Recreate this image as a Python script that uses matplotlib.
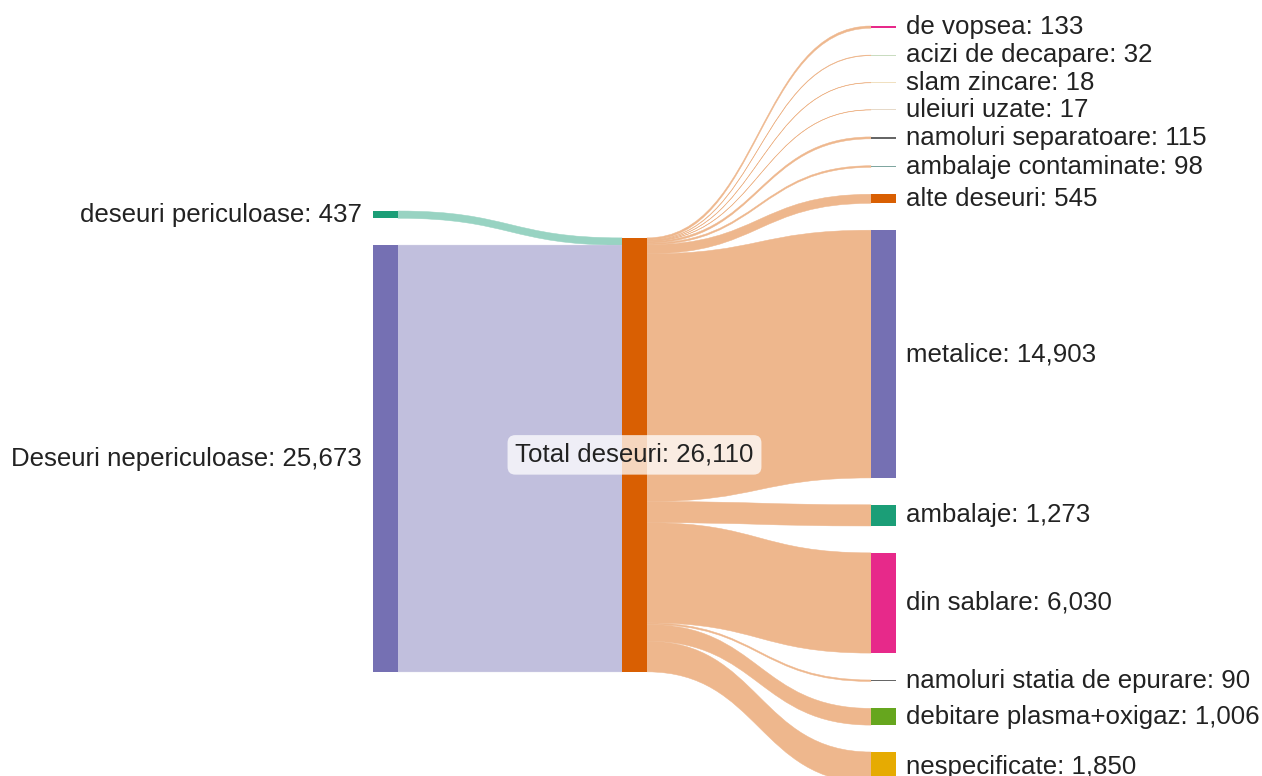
import matplotlib
matplotlib.use("Agg")
import matplotlib.pyplot as plt
from matplotlib.path import Path
from matplotlib.patches import PathPatch, Rectangle
from matplotlib.colors import to_rgb

# ---------------- data ----------------
left_labels = ["deseuri periculoase", "Deseuri nepericuloase"]
left_values = [437, 25673]
left_colors = ["#1b9e77", "#7570b3"]

total_label = "Total deseuri"
total_color = "#d95f02"

right_labels = ["de vopsea", "acizi de decapare", "slam zincare", "uleiuri uzate",
                "namoluri separatoare", "ambalaje contaminate", "alte deseuri",
                "metalice", "ambalaje", "din sablare", "namoluri statia de epurare",
                "debitare plasma+oxigaz", "nespecificate"]
right_values = [133, 32, 18, 17, 115, 98, 545, 14903, 1273, 6030, 90, 1006, 1850]
right_colors = ["#e7298a", "#c9dcc0", "#f0e0c0", "#e6d9c8", "#666666", "#7fa6a0",
                "#d95f02", "#7570b3", "#1b9e77", "#e7298a", "#666666", "#66a61e",
                "#e6ab02"]

# ---------------- layout ----------------
W, H = 1262, 776
SCALE = 0.01662     # px per unit
PAD = 26.9          # gap between nodes
NODE_W = 25
X_LEFT, X_MID, X_RIGHT = 373, 622, 871
TOP_LEFT, TOP_RIGHT = 211, 26
LINK_ALPHA = 0.45
FS = 18.6
TXT = "#222222"

plt.rcParams["font.family"] = ["Liberation Sans", "DejaVu Sans"]
fig = plt.figure(figsize=(W / 100, H / 100), dpi=100)
ax = fig.add_axes([0, 0, 1, 1])
ax.set_xlim(0, W)
ax.set_ylim(H, 0)
ax.axis("off")


def light(color, a=LINK_ALPHA):
    r, g, b = to_rgb(color)
    return (1 - a + a * r, 1 - a + a * g, 1 - a + a * b)


def stack(values, top):
    pos = []
    y = top
    for v in values:
        h = v * SCALE
        pos.append((y, y + h))
        y += h + PAD
    return pos


left_pos = stack(left_values, TOP_LEFT)
total_value = sum(left_values)
mid_bottom = left_pos[-1][1]
mid_top = mid_bottom - total_value * SCALE
right_pos = stack(right_values, TOP_RIGHT)


def band(x0, y0a, y0b, x1, y1a, y1b, color):
    xm = (x0 + x1) / 2
    verts = [(x0, y0a), (xm, y0a), (xm, y1a), (x1, y1a),
             (x1, y1b), (xm, y1b), (xm, y0b), (x0, y0b), (x0, y0a)]
    codes = [Path.MOVETO, Path.CURVE4, Path.CURVE4, Path.CURVE4,
             Path.LINETO, Path.CURVE4, Path.CURVE4, Path.CURVE4, Path.CLOSEPOLY]
    c = light(color)
    ax.add_patch(PathPatch(Path(verts, codes), facecolor=c, edgecolor=c,
                           lw=0.35, zorder=1))


# links left -> total
y_in = mid_top
for (t, b), v, col in zip(left_pos, left_values, left_colors):
    h = v * SCALE
    band(X_LEFT + NODE_W, t, b, X_MID, y_in, y_in + h, col)
    y_in += h

# links total -> right
y_out = mid_top
for (t, b), v in zip(right_pos, right_values):
    h = v * SCALE
    band(X_MID + NODE_W, y_out, y_out + h, X_RIGHT, t, b, total_color)
    y_out += h


def node(x, t, b, color):
    hh = max(b - t, 1.2)
    ax.add_patch(Rectangle((x, (t + b) / 2 - hh / 2), NODE_W, hh, facecolor=color,
                           edgecolor="none", zorder=2))


for (t, b), col, lab, v in zip(left_pos, left_colors, left_labels, left_values):
    node(X_LEFT, t, b, col)
    ax.text(X_LEFT - 11, (t + b) / 2, f"{lab}: {v:,}", ha="right", va="center",
            fontsize=FS, color=TXT, zorder=3)

node(X_MID, mid_top, mid_bottom, total_color)
ax.text(X_MID + NODE_W / 2, (mid_top + mid_bottom) / 2, f"{total_label}: {total_value:,}",
        ha="center", va="center", fontsize=FS, color=TXT, zorder=3,
        bbox=dict(boxstyle="round,pad=0.3,rounding_size=0.3", fc=(1, 1, 1, 0.75),
                  ec="none"))

for (t, b), col, lab, v in zip(right_pos, right_colors, right_labels, right_values):
    node(X_RIGHT, t, b, col)
    ax.text(X_RIGHT + NODE_W + 10, (t + b) / 2, f"{lab}: {v:,}", ha="left",
            va="center", fontsize=FS, color=TXT, zorder=3)

fig.savefig("out.png", dpi=100, facecolor="white")
